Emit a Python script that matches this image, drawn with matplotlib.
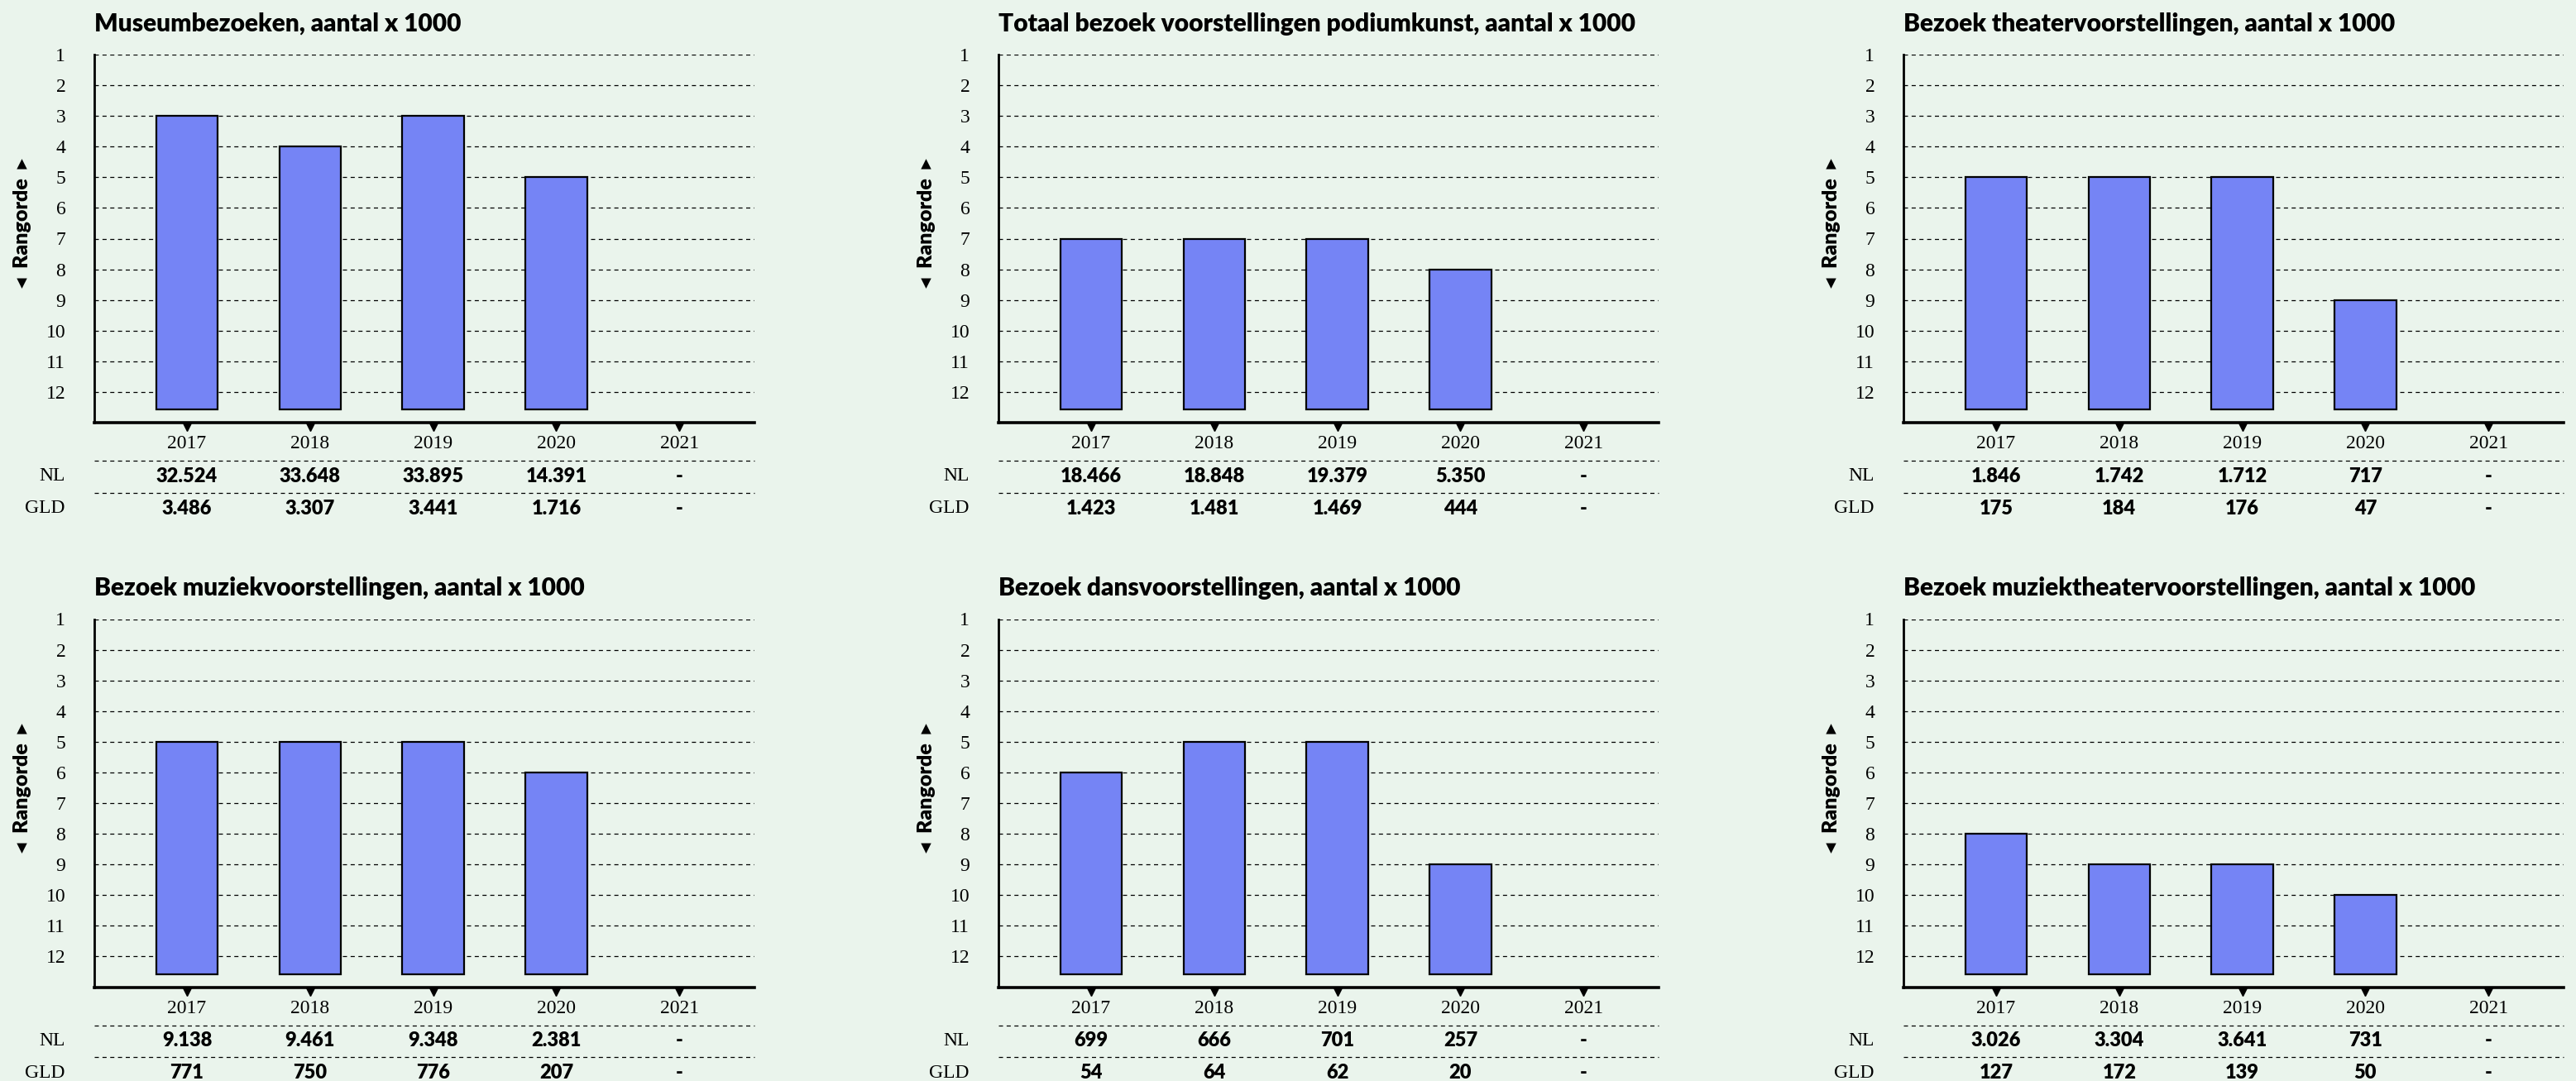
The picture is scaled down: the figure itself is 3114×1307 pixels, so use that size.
import matplotlib
matplotlib.use('Agg')
import matplotlib.pyplot as plt
import matplotlib.transforms as mtrans

years = ['2017', '2018', '2019', '2020', '2021']

titles = [
    'Museumbezoeken, aantal x 1000',
    'Totaal bezoek voorstellingen podiumkunst, aantal x 1000',
    'Bezoek theatervoorstellingen, aantal x 1000',
    'Bezoek muziekvoorstellingen, aantal x 1000',
    'Bezoek dansvoorstellingen, aantal x 1000',
    'Bezoek muziektheatervoorstellingen, aantal x 1000',
]

# rangorde per jaar (2021 ontbreekt)
rank_museum = [3, 4, 3, 5]
rank_podium = [7, 7, 7, 8]
rank_theater = [5, 5, 5, 9]
rank_muziek = [5, 5, 5, 6]
rank_dans = [6, 5, 5, 9]
rank_muziektheater = [8, 9, 9, 10]

nl_museum = ['32.524', '33.648', '33.895', '14.391', '-']
nl_podium = ['18.466', '18.848', '19.379', '5.350', '-']
nl_theater = ['1.846', '1.742', '1.712', '717', '-']
nl_muziek = ['9.138', '9.461', '9.348', '2.381', '-']
nl_dans = ['699', '666', '701', '257', '-']
nl_muziektheater = ['3.026', '3.304', '3.641', '731', '-']

gld_museum = ['3.486', '3.307', '3.441', '1.716', '-']
gld_podium = ['1.423', '1.481', '1.469', '444', '-']
gld_theater = ['175', '184', '176', '47', '-']
gld_muziek = ['771', '750', '776', '207', '-']
gld_dans = ['54', '64', '62', '20', '-']
gld_muziektheater = ['127', '172', '139', '50', '-']

ranks = [rank_museum, rank_podium, rank_theater, rank_muziek, rank_dans, rank_muziektheater]
nl = [nl_museum, nl_podium, nl_theater, nl_muziek, nl_dans, nl_muziektheater]
gld = [gld_museum, gld_podium, gld_theater, gld_muziek, gld_dans, gld_muziektheater]

bg = '#eaf4ec'
bar_color = '#7584f5'
serif = 'Liberation Serif'
sans = ['Lato', 'DejaVu Sans']

W, H = 3114, 1307
fig = plt.figure(figsize=(W / 100, H / 100), dpi=100, facecolor=bg)

lefts = [114, 1207, 2301]
tops = [66, 748.5]
aw, ah = 798, 445
base = 12.57

for i in range(6):
    row, col = divmod(i, 3)
    ax = fig.add_axes([lefts[col] / W, 1 - (tops[row] + ah) / H, aw / W, ah / H])
    ax.set_facecolor(bg)
    ax.set_xlim(-0.753, 4.61)
    ax.set_ylim(13, 1)

    x = list(range(len(years)))
    r = ranks[i]
    ax.bar(x[:len(r)], [base - v for v in r], bottom=r, width=0.5,
           color=bar_color, edgecolor='black', linewidth=1.6, zorder=3)

    ax.set_yticks(range(1, 13))
    ax.set_yticklabels([str(k) for k in range(1, 13)], fontfamily=serif, fontsize=17)
    ax.tick_params(axis='y', length=0, pad=25)
    ax.set_xticks([])
    ax.grid(axis='y', color='black', linestyle=(0, (4, 3.5)), linewidth=0.9)
    ax.set_axisbelow(True)

    for s in ['top', 'right']:
        ax.spines[s].set_visible(False)
    ax.spines['left'].set_linewidth(2)
    ax.spines['bottom'].set_linewidth(2.6)

    tr = mtrans.blended_transform_factory(ax.transData, ax.transAxes)
    # driehoekjes onder de x-as
    ax.plot(x, [-0.012] * len(x), linestyle='none', marker='v', markersize=7,
            color='black', transform=tr, clip_on=False)

    for xi, yr in enumerate(years):
        ax.text(xi, -0.0575, yr, transform=tr, ha='center', va='center',
                fontfamily=serif, fontsize=17)
        ax.text(xi, -0.146, nl[i][xi], transform=tr, ha='center', va='center',
                family=sans, fontweight='heavy', fontsize=17)
        ax.text(xi, -0.2337, gld[i][xi], transform=tr, ha='center', va='center',
                family=sans, fontweight='heavy', fontsize=17)

    for yl in [-0.1034, -0.191]:
        ax.plot([0, 1], [yl, yl], transform=ax.transAxes, color='black',
                linestyle=(0, (4, 3.5)), linewidth=0.9, clip_on=False)

    ax.text(-0.0439, -0.146, 'NL', transform=ax.transAxes, ha='right', va='center',
            fontfamily=serif, fontsize=17)
    ax.text(-0.0439, -0.2337, 'GLD', transform=ax.transAxes, ha='right', va='center',
            fontfamily=serif, fontsize=17)

    ax.text(-0.109, 6.5, '\u25c2  Rangorde  \u25b8',
            transform=mtrans.blended_transform_factory(ax.transAxes, ax.transData),
            rotation=90, ha='center', va='center', family=sans, fontweight='heavy', fontsize=18)

    ax.text(0, 1.084, titles[i], transform=ax.transAxes, ha='left', va='center',
            family=sans, fontweight='heavy', fontsize=21.5)

fig.savefig('out.png', dpi=100, facecolor=bg)
